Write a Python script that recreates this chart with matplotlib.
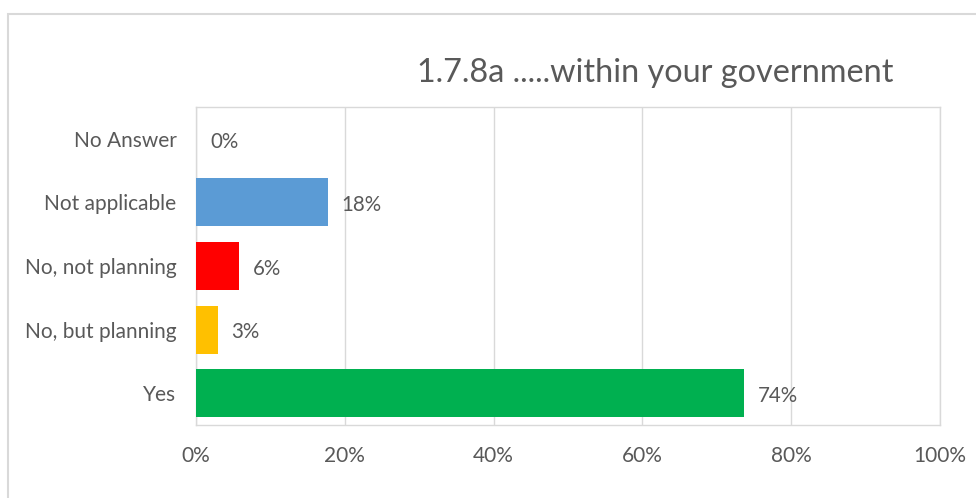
import matplotlib.pyplot as plt
from matplotlib.patches import Rectangle

categories = ['Yes', 'No, but planning', 'No, not planning', 'Not applicable', 'No Answer']
values = [73.6, 2.9, 5.8, 17.7, 0.0]
colors = ['#00B050', '#FFC000', '#FF0000', '#5B9BD5', '#5B9BD5']
xticks = [0, 20, 40, 60, 80, 100]
title = '1.7.8a .....within your government'

plt.rcParams['font.family'] = ['Lato', 'DejaVu Sans']
text_color = '#595959'
grid_color = '#d9d9d9'

W, H = 976, 498
fig = plt.figure(figsize=(W / 100, H / 100), dpi=100)
ax = fig.add_axes([196 / W, 1 - 425 / H, (940 - 196) / W, (425 - 107) / H])

ypos = list(range(len(categories)))
bars = ax.barh(ypos, values, height=0.755, color=colors, zorder=3)

for y, v in zip(ypos, values):
    ax.annotate(f'{v:.0f}%', xy=(v, y), xytext=(10, -2), textcoords='offset points',
                ha='left', va='center', fontsize=14.8, color=text_color)

ax.set_xlim(0, 100)
ax.set_ylim(-0.5, len(categories) - 0.5)
ax.set_xticks(xticks)
ax.set_xticklabels([f'{t}%' for t in xticks])
ax.set_yticks(ypos)
ax.set_yticklabels(categories)
ax.tick_params(axis='both', length=0, labelsize=15, labelcolor=text_color)
ax.tick_params(axis='x', pad=15)
ax.tick_params(axis='y', pad=14)
ax.grid(axis='x', color=grid_color, linewidth=1, zorder=0)
for s in ax.spines.values():
    s.set_color(grid_color)
    s.set_linewidth(1)

fig.text(655 / W, 1 - 73 / H, title, ha='center', va='center', fontsize=23.3, color=text_color)

# outer chart border
fig.patches.append(Rectangle((8 / W, -0.1), 1.2, 1 - 14 / H + 0.1, transform=fig.transFigure,
                             fill=False, edgecolor=grid_color, linewidth=1.5))

plt.savefig('out.png', dpi=100)
